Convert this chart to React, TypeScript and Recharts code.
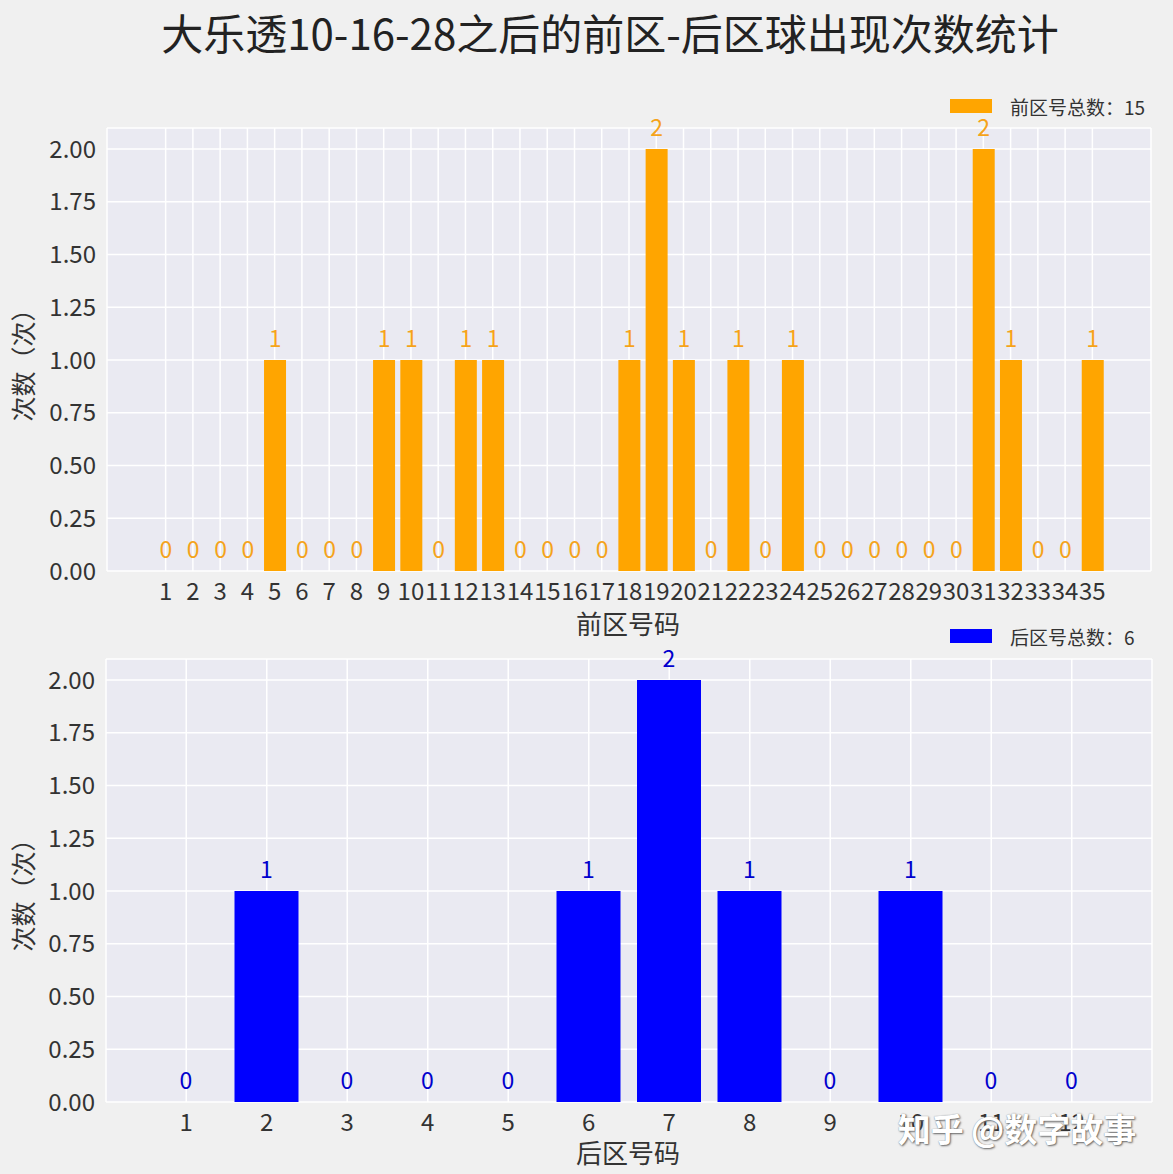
import React from 'react';
import { BarChart, Bar, XAxis, YAxis, CartesianGrid, LabelList } from 'recharts';

const frontNumbers = ['1','2','3','4','5','6','7','8','9','10','11','12','13','14','15','16','17','18','19','20','21','22','23','24','25','26','27','28','29','30','31','32','33','34','35'];
const frontCounts = [0,0,0,0,1,0,0,0,1,1,0,1,1,0,0,0,0,1,2,1,0,1,0,1,0,0,0,0,0,0,2,1,0,0,1];
const backNumbers = ['1','2','3','4','5','6','7','8','9','10','11','12'];
const backCounts = [0,1,0,0,0,1,2,1,0,1,0,0];
const yTicks = [0, 0.25, 0.5, 0.75, 1, 1.25, 1.5, 1.75, 2];

const title = '大乐透10-16-28之后的前区-后区球出现次数统计';
const frontLegend = '前区号总数：15';
const backLegend = '后区号总数：6';
const frontXLabel = '前区号码';
const backXLabel = '后区号码';
const yLabel = '次数（次）';
const watermark = '知乎 @数字故事';

const frontData = frontNumbers.map((n, i) => ({ num: n, count: frontCounts[i] }));
const backData = backNumbers.map((n, i) => ({ num: n, count: backCounts[i] }));

const FONT = "'Noto Sans CJK SC', 'Noto Sans', sans-serif";
const ORANGE = '#ffa500';
const BLUE = '#0000ff';

const tickStyle = { fontSize: 24, fill: '#333', fontFamily: FONT };

const makeLabel = (color: string, fontSize: number) => (props: any) => {
  const { x, y, width, height, value } = props;
  const top = Math.min(Number(y), Number(y) + Number(height || 0));
  return (
    <text x={Number(x) + Number(width) / 2} y={top - 13} textAnchor="middle" fill={color} fontSize={fontSize} fontFamily={FONT}>
      {String(value)}
    </text>
  );
};

const LegendDiv = ({ top, color, text }: { top: number; color: string; text: string }) => (
  <div style={{ position: 'absolute', left: 950, top, display: 'flex', alignItems: 'center', fontFamily: FONT, fontSize: 19, color: '#333', whiteSpace: 'nowrap', height: 20 }}>
    <div style={{ width: 42, height: 14, background: color, marginRight: 18 }} />
    <span style={{ lineHeight: 1 }}>{text}</span>
  </div>
);

const YLabelDiv = ({ cy }: { cy: number }) => (
  <div style={{ position: 'absolute', left: 22, top: cy, transform: 'translate(-50%, -50%) rotate(-90deg)', fontSize: 25, fontFamily: FONT, color: '#333', whiteSpace: 'nowrap', lineHeight: 1 }}>
    {yLabel}
  </div>
);

const XLabelDiv = ({ cx, cy, text }: { cx: number; cy: number; text: string }) => (
  <div style={{ position: 'absolute', left: cx, top: cy, transform: 'translate(-50%, -50%)', fontSize: 26, fontFamily: FONT, color: '#333', whiteSpace: 'nowrap', lineHeight: 1 }}>
    {text}
  </div>
);

export default function App() {
  return (
    <div style={{ position: 'absolute', left: 0, top: 0, width: 1173, height: 1174, background: '#f0f0f0', overflow: 'hidden', fontFamily: FONT }}>
      <div style={{ position: 'absolute', left: 610, top: 32, transform: 'translate(-50%, -50%)', fontSize: 42, color: '#222', whiteSpace: 'nowrap', lineHeight: 1 }}>
        {title}
      </div>

      <div style={{ position: 'absolute', left: 0, top: 0 }}>
        <BarChart width={1173} height={650} data={frontData} margin={{ top: 128, right: 22, left: 0, bottom: 0 }}>
          <CartesianGrid stroke="#ffffff" strokeWidth={1.5} fill="#eaeaf2" />
          <XAxis dataKey="num" interval={0} padding={{ left: 45, right: 45 }} axisLine={false} tickLine={false} tickSize={0} tickMargin={12} height={79} tick={tickStyle} />
          <YAxis type="number" domain={[0, 2.1]} ticks={yTicks} tickFormatter={(v: number) => v.toFixed(2)} axisLine={false} tickLine={false} tickSize={0} tickMargin={11} width={107} tick={tickStyle} />
          <Bar dataKey="count" fill={ORANGE} barSize={22} minPointSize={0.01} isAnimationActive={false}>
            <LabelList dataKey="count" content={makeLabel('#f5a31a', 23)} />
          </Bar>
        </BarChart>
      </div>
      <LegendDiv top={96} color={ORANGE} text={frontLegend} />
      <XLabelDiv cx={628} cy={623} text={frontXLabel} />
      <YLabelDiv cy={359} />

      <div style={{ position: 'absolute', left: 0, top: 620 }}>
        <BarChart width={1173} height={554} data={backData} margin={{ top: 39, right: 21, left: 0, bottom: 0 }}>
          <CartesianGrid stroke="#ffffff" strokeWidth={1.5} fill="#eaeaf2" />
          <XAxis dataKey="num" interval={0} padding={{ left: 40, right: 40 }} axisLine={false} tickLine={false} tickSize={0} tickMargin={12} height={72} tick={tickStyle} />
          <YAxis type="number" domain={[0, 2.1]} ticks={yTicks} tickFormatter={(v: number) => v.toFixed(2)} axisLine={false} tickLine={false} tickSize={0} tickMargin={11} width={106} tick={tickStyle} />
          <Bar dataKey="count" fill={BLUE} barSize={64} minPointSize={0.01} isAnimationActive={false}>
            <LabelList dataKey="count" content={makeLabel('#0000cd', 23)} />
          </Bar>
        </BarChart>
      </div>
      <LegendDiv top={626} color={BLUE} text={backLegend} />
      <XLabelDiv cx={628} cy={1152} text={backXLabel} />
      <YLabelDiv cy={889} />

      <div style={{ position: 'absolute', left: 1017, top: 1128, transform: 'translate(-50%, -50%)', fontSize: 33, fontWeight: 'bold', color: '#ffffff', textShadow: '1px 1px 2px #666, 0 0 1px #888', whiteSpace: 'nowrap', lineHeight: 1 }}>
        {watermark}
      </div>
    </div>
  );
}
